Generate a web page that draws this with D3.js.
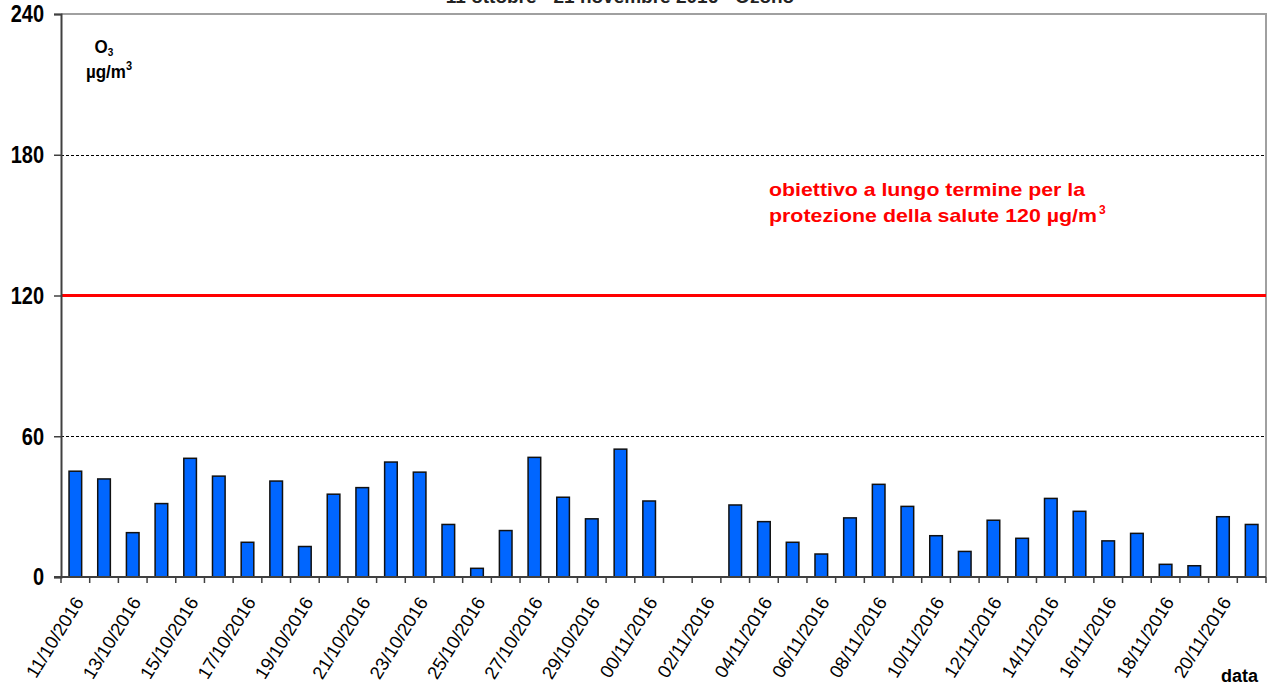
<!DOCTYPE html>
<html>
<head>
<meta charset="utf-8">
<script src="https://cdn.jsdelivr.net/npm/d3@7"></script>
<style>
  body { margin: 0; background: #fff; }
  svg { display: block; }
  text { font-family: Arial, "Liberation Sans", sans-serif; }
</style>
</head>
<body>
<svg id="chart" width="1271" height="686"></svg>
<script>
// Daily ozone (O3) values, µg/m3, 11 October - 21 November 2016
const dates = [
  "11/10/2016","12/10/2016","13/10/2016","14/10/2016","15/10/2016","16/10/2016","17/10/2016",
  "18/10/2016","19/10/2016","20/10/2016","21/10/2016","22/10/2016","23/10/2016","24/10/2016",
  "25/10/2016","26/10/2016","27/10/2016","28/10/2016","29/10/2016","30/10/2016","00/11/2016",
  "01/11/2016","02/11/2016","03/11/2016","04/11/2016","05/11/2016","06/11/2016","07/11/2016",
  "08/11/2016","09/11/2016","10/11/2016","11/11/2016","12/11/2016","13/11/2016","14/11/2016",
  "15/11/2016","16/11/2016","17/11/2016","18/11/2016","19/11/2016","20/11/2016","21/11/2016"
];
const ozone = [
  45.1, 41.8, 18.9, 31.3, 50.6, 43.0, 14.8,
  40.9, 13.0, 35.3, 38.1, 49.0, 44.7, 22.4,
  3.7, 19.8, 51.0, 34.0, 24.8, 54.5, 32.4,
  null, null, 30.7, 23.6, 14.8, 9.8, 25.2,
  39.5, 30.1, 17.6, 10.9, 24.2, 16.5, 33.5,
  28.0, 15.4, 18.6, 5.4, 4.8, 25.7, 22.4
];
const yTicks = [0, 60, 120, 180, 240];
const dashedLevels = [60, 180];
const targetLevel = 120;

const svg = d3.select("#chart");
const W = 1271, H = 686;
const margin = { top: 14, right: 5, bottom: 109, left: 61 };
const x0 = margin.left, x1 = W - margin.right;
const y0 = H - margin.bottom, y1 = margin.top;

const x = d3.scaleBand().domain(dates).range([x0, x1]).padding(0);
const y = d3.scaleLinear().domain([0, 240]).range([y0, y1]);

// title (sits mostly above the visible area)
svg.append("text")
  .attr("x", 620).attr("y", 3)
  .attr("text-anchor", "middle")
  .attr("font-size", 19).attr("font-weight", "bold")
  .attr("fill", "#222")
  .text("11 ottobre - 21 novembre 2016 - Ozono");

// frame: top and right border
svg.append("path")
  .attr("d", `M${x0},${y1}H${x1}V${y0}`)
  .attr("fill", "none").attr("stroke", "#a0a0a0").attr("stroke-width", 2);

// dashed reference lines
svg.selectAll("line.grid").data(dashedLevels).join("line")
  .attr("class", "grid")
  .attr("x1", x0).attr("x2", x1)
  .attr("y1", d => Math.round(y(d)) + 0.5).attr("y2", d => Math.round(y(d)) + 0.5)
  .attr("stroke", "#000").attr("stroke-width", 1).attr("stroke-dasharray", "3,2");

// long-term objective line
svg.append("line")
  .attr("x1", x0).attr("x2", x1)
  .attr("y1", y(targetLevel)).attr("y2", y(targetLevel))
  .attr("stroke", "#ff0000").attr("stroke-width", 3);

// bars
const barW = x.bandwidth() * 0.44;
svg.selectAll("rect.bar").data(dates.map((d, i) => ({ d, v: ozone[i] })).filter(e => e.v != null))
  .join("rect")
  .attr("class", "bar")
  .attr("x", e => x(e.d) + (x.bandwidth() - barW) / 2)
  .attr("width", barW)
  .attr("y", e => y(e.v))
  .attr("height", e => y0 - y(e.v))
  .attr("fill", "#0066ff")
  .attr("stroke", "#111").attr("stroke-width", 1.5);

// y axis
const yAxis = d3.axisLeft(y).tickValues(yTicks).tickSize(7).tickPadding(10).tickFormat(d3.format("d"));
const gy = svg.append("g").attr("transform", `translate(${x0},0)`).call(yAxis);
gy.select(".domain").attr("stroke", "#404040").attr("stroke-width", 2);
gy.selectAll(".tick line").attr("stroke", "#404040").attr("stroke-width", 1.5);
gy.selectAll(".tick text")
  .attr("font-size", 20).attr("font-weight", "bold").attr("fill", "#000")
  .attr("font-family", "Arial, 'Liberation Sans', sans-serif")
  .attr("dy", "0.34em")
  .attr("transform", "scale(1,1.16)");

// x axis line and category ticks
svg.append("line")
  .attr("x1", x0 - 7).attr("x2", x1)
  .attr("y1", y0).attr("y2", y0)
  .attr("stroke", "#404040").attr("stroke-width", 2);
const boundaries = dates.map(d => x(d)).concat([x1]);
svg.selectAll("line.xtick").data(boundaries).join("line")
  .attr("class", "xtick")
  .attr("x1", d => d).attr("x2", d => d)
  .attr("y1", y0).attr("y2", y0 + 6)
  .attr("stroke", "#404040").attr("stroke-width", 1.5);

// x tick labels, every second day
svg.selectAll("text.xlab").data(dates.filter((d, i) => i % 2 === 0)).join("text")
  .attr("class", "xlab")
  .attr("text-anchor", "end")
  .attr("font-size", 18.5)
  .attr("fill", "#000")
  .attr("transform", d => `translate(${x(d) + x.bandwidth() / 2 + 9},${y0 + 25}) rotate(-58)`)
  .text(d => d);

// axis titles
const yl = svg.append("text").attr("font-size", 17).attr("font-weight", "bold")
  .attr("text-anchor", "middle").attr("transform", "translate(104,53) scale(1,1.1)");
yl.append("tspan").attr("x", 0).attr("y", 0).text("O");
yl.append("tspan").attr("font-size", 10).attr("dy", 3).text("3");
const yl2 = svg.append("text").attr("font-size", 17).attr("font-weight", "bold")
  .attr("text-anchor", "middle").attr("transform", "translate(109,78) scale(1,1.1)");
yl2.append("tspan").attr("x", 0).attr("y", 0).text("µg/m");
yl2.append("tspan").attr("font-size", 11).attr("dy", -7).text("3");

svg.append("text")
  .attr("x", 1258).attr("y", 682)
  .attr("text-anchor", "end")
  .attr("font-size", 18).attr("font-weight", "bold")
  .text("data");

// objective annotation
const note = svg.append("text").attr("font-size", 19).attr("font-weight", "bold").attr("fill", "#ff0000");
note.append("tspan").attr("x", 769).attr("y", 196)
  .attr("textLength", 316).attr("lengthAdjust", "spacingAndGlyphs")
  .text("obiettivo a lungo termine per la");
note.append("tspan").attr("x", 769).attr("y", 222)
  .attr("textLength", 328).attr("lengthAdjust", "spacingAndGlyphs")
  .text("protezione della salute 120 µg/m");
note.append("tspan").attr("font-size", 12).attr("dy", -8).attr("dx", 2).text("3");
</script>
</body>
</html>
